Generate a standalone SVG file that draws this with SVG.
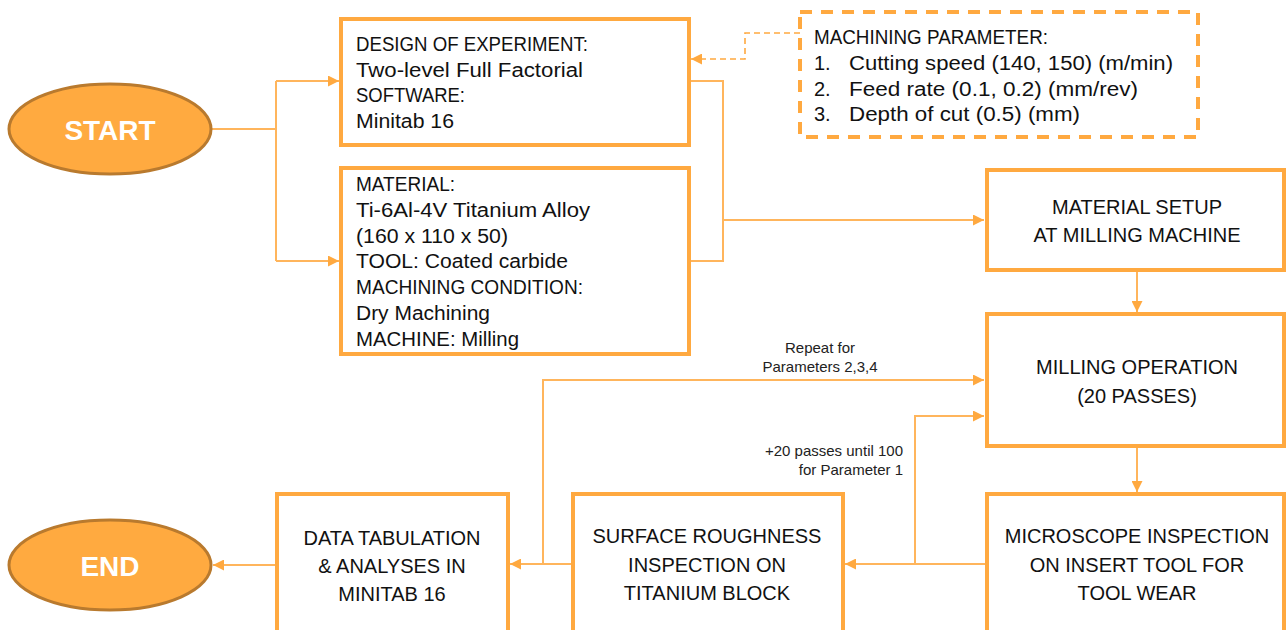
<svg xmlns="http://www.w3.org/2000/svg" width="1286" height="630" viewBox="0 0 1286 630">
<defs>
<marker id="ah" viewBox="0 0 10 10" refX="10" refY="5" markerWidth="11" markerHeight="11" markerUnits="userSpaceOnUse" orient="auto"><path d="M0,0 L10,5 L0,10 z" fill="#FFA940"/></marker>
<style>
.box{fill:#fff;stroke:#FFA940;stroke-width:4}
.term{fill:#FFAA40;stroke:#B97A2E;stroke-width:3}
.ln{fill:none;stroke:#FFB55C;stroke-width:2}
.dash{fill:none;stroke:#FFA940;stroke-width:1.6;stroke-dasharray:6 4}
.t{font-family:"Liberation Sans",Arial,sans-serif;font-size:20px;fill:#111}
.c{text-anchor:middle}
.s{font-family:"Liberation Sans",Arial,sans-serif;font-size:15px;fill:#222}
.w{font-family:"Liberation Sans",Arial,sans-serif;font-size:28px;font-weight:bold;fill:#fff;text-anchor:middle}
</style>
</defs>
<rect width="1286" height="630" fill="#fff"/>
<g id="connectors">
<path class="ln" d="M212,129 H276 M276,81 V261"/>
<path class="ln" d="M276,81 H339" marker-end="url(#ah)"/>
<path class="ln" d="M276,261 H339" marker-end="url(#ah)"/>
<path class="ln" d="M689,81 H723 V261 H689"/>
<path class="ln" d="M723,220 H984" marker-end="url(#ah)"/>
<path class="dash" d="M800,33 H745 V59 H691" marker-end="url(#ah)"/>
<path class="ln" d="M1137,270 V312" marker-end="url(#ah)"/>
<path class="ln" d="M1137,447 V492" marker-end="url(#ah)"/>
<path class="ln" d="M986,564 H845" marker-end="url(#ah)"/>
<path class="ln" d="M915,564 V416 H984" marker-end="url(#ah)"/>
<path class="ln" d="M572,564 H510" marker-end="url(#ah)"/>
<path class="ln" d="M543,564 V380 H984" marker-end="url(#ah)"/>
<path class="ln" d="M276,565 H213" marker-end="url(#ah)"/>
<text class="s c" x="820" y="353">Repeat for</text>
<text class="s c" x="820" y="372">Parameters 2,3,4</text>
<text class="s" x="903" y="456" text-anchor="end">+20 passes until 100</text>
<text class="s" x="903" y="475" text-anchor="end">for Parameter 1</text>
</g>
<g id="start">
<ellipse class="term" cx="110" cy="129" rx="101" ry="45"/>
<text class="w" x="110" y="140">START</text>
</g>
<g id="doe">
<rect class="box" x="341" y="19" width="348" height="126"/>
<text class="t" x="356" y="51" textLength="232" lengthAdjust="spacingAndGlyphs">DESIGN OF EXPERIMENT:</text>
<text class="t" x="356" y="77" textLength="227" lengthAdjust="spacingAndGlyphs">Two-level Full Factorial</text>
<text class="t" x="356" y="102" textLength="109" lengthAdjust="spacingAndGlyphs">SOFTWARE:</text>
<text class="t" x="356" y="128" textLength="98" lengthAdjust="spacingAndGlyphs">Minitab 16</text>
</g>
<g id="material">
<rect class="box" x="341" y="168" width="348" height="186"/>
<text class="t" x="356" y="191" textLength="99" lengthAdjust="spacingAndGlyphs">MATERIAL:</text>
<text class="t" x="356" y="217" textLength="234" lengthAdjust="spacingAndGlyphs">Ti-6Al-4V Titanium Alloy</text>
<text class="t" x="356" y="243" textLength="152" lengthAdjust="spacingAndGlyphs">(160 x 110 x 50)</text>
<text class="t" x="356" y="268" textLength="212" lengthAdjust="spacingAndGlyphs">TOOL: Coated carbide</text>
<text class="t" x="356" y="294" textLength="227" lengthAdjust="spacingAndGlyphs">MACHINING CONDITION:</text>
<text class="t" x="356" y="320" textLength="134" lengthAdjust="spacingAndGlyphs">Dry Machining</text>
<text class="t" x="356" y="346" textLength="163" lengthAdjust="spacingAndGlyphs">MACHINE: Milling</text>
</g>
<g id="params">
<rect x="800" y="12" width="398" height="125" fill="#fff" stroke="#FFA940" stroke-width="4" stroke-dasharray="12 9"/>
<text class="t" x="814" y="44" textLength="234" lengthAdjust="spacingAndGlyphs">MACHINING PARAMETER:</text>
<text class="t" x="814" y="70">1.</text><text class="t" x="849" y="70" textLength="324" lengthAdjust="spacingAndGlyphs">Cutting speed (140, 150) (m/min)</text>
<text class="t" x="814" y="96">2.</text><text class="t" x="849" y="96" textLength="289" lengthAdjust="spacingAndGlyphs">Feed rate (0.1, 0.2) (mm/rev)</text>
<text class="t" x="814" y="121">3.</text><text class="t" x="849" y="121" textLength="231" lengthAdjust="spacingAndGlyphs">Depth of cut (0.5) (mm)</text>
</g>
<g id="setup">
<rect class="box" x="987" y="170" width="297" height="100"/>
<text class="t c" x="1137" y="214">MATERIAL SETUP</text>
<text class="t c" x="1137" y="242">AT MILLING MACHINE</text>
</g>
<g id="milling">
<rect class="box" x="987" y="314" width="297" height="132"/>
<text class="t c" x="1137" y="374">MILLING OPERATION</text>
<text class="t c" x="1137" y="403">(20 PASSES)</text>
</g>
<g id="microscope">
<rect class="box" x="987" y="494" width="297" height="150"/>
<text class="t c" x="1137" y="543">MICROSCOPE INSPECTION</text>
<text class="t c" x="1137" y="572">ON INSERT TOOL FOR</text>
<text class="t c" x="1137" y="600">TOOL WEAR</text>
</g>
<g id="surface">
<rect class="box" x="573" y="494" width="270" height="150"/>
<text class="t c" x="707" y="543">SURFACE ROUGHNESS</text>
<text class="t c" x="707" y="572">INSPECTION ON</text>
<text class="t c" x="707" y="600">TITANIUM BLOCK</text>
</g>
<g id="data">
<rect class="box" x="277" y="494" width="231" height="150"/>
<text class="t c" x="392" y="545">DATA TABULATION</text>
<text class="t c" x="392" y="573">&amp; ANALYSES IN</text>
<text class="t c" x="392" y="601">MINITAB 16</text>
</g>
<g id="end">
<ellipse class="term" cx="110" cy="565" rx="101" ry="45"/>
<text class="w" x="110" y="576">END</text>
</g>
</svg>
